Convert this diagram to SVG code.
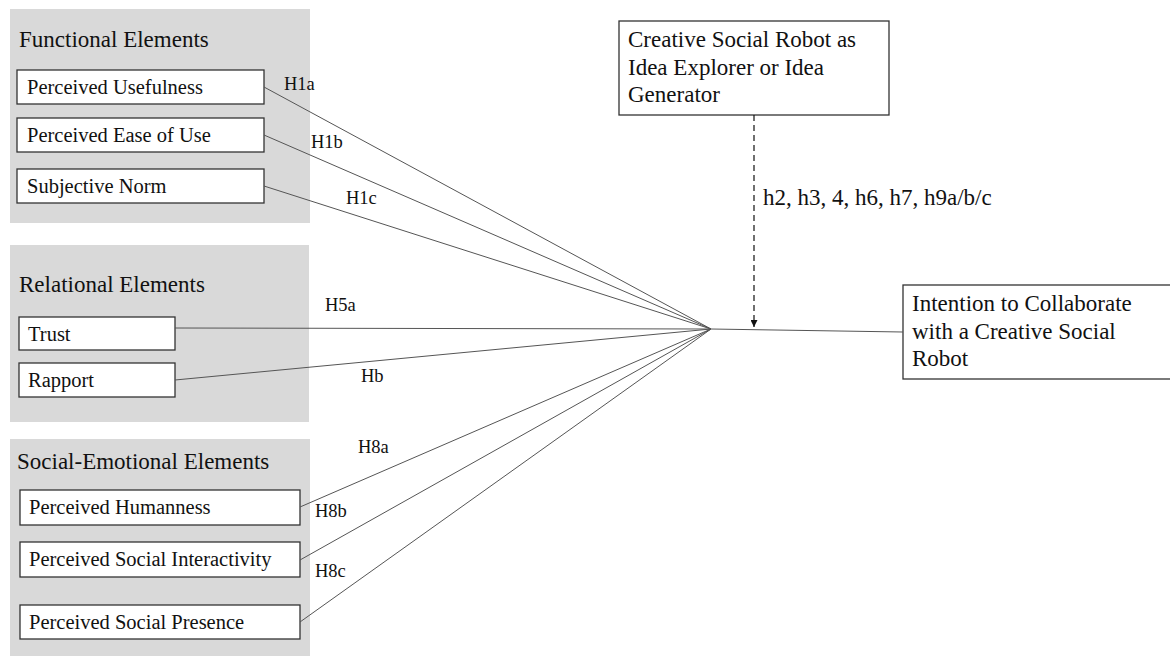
<svg xmlns="http://www.w3.org/2000/svg" width="1170" height="656" viewBox="0 0 1170 656">
<style>
.panel{fill:#d9d9d9;stroke:none}
.box{fill:#fff;stroke:#333;stroke-width:1.3}
.t{font-family:"Liberation Serif","Times New Roman",serif;fill:#111}
.title{font-size:23px}
.lbl{font-size:20.5px}
.h{font-size:18.5px}
.c{stroke:#555;stroke-width:1;fill:none}
</style>
<defs>
<marker id="arr" viewBox="0 0 10 10" refX="10" refY="5" markerWidth="7" markerHeight="7" orient="auto" markerUnits="userSpaceOnUse">
<path d="M0,0 L10,5 L0,10 z" fill="#111"/>
</marker>
</defs>
<rect width="1170" height="656" fill="#fff"/>
<g id="panel-functional">
<rect class="panel" x="10" y="9" width="300" height="214"/>
<text class="t title" x="19" y="47">Functional Elements</text>
</g>
<g id="panel-relational">
<rect class="panel" x="10" y="245" width="299" height="177"/>
<text class="t title" x="19" y="292">Relational Elements</text>
</g>
<g id="panel-social">
<rect class="panel" x="10" y="439" width="300" height="217"/>
<text class="t title" x="17" y="469">Social-Emotional Elements</text>
</g>
<g id="n-usefulness"><rect class="box" x="17" y="70" width="247" height="34"/><text class="t lbl" x="27" y="94">Perceived Usefulness</text></g>
<g id="n-ease"><rect class="box" x="17" y="118" width="247" height="34"/><text class="t lbl" x="27" y="142">Perceived Ease of Use</text></g>
<g id="n-norm"><rect class="box" x="17" y="169" width="247" height="34"/><text class="t lbl" x="27" y="193">Subjective Norm</text></g>
<g id="n-trust"><rect class="box" x="19" y="317" width="156" height="33"/><text class="t lbl" x="28" y="341">Trust</text></g>
<g id="n-rapport"><rect class="box" x="19" y="363" width="156" height="34"/><text class="t lbl" x="28" y="387">Rapport</text></g>
<g id="n-humanness"><rect class="box" x="20" y="490" width="280" height="35"/><text class="t lbl" x="29" y="514">Perceived Humanness</text></g>
<g id="n-interactivity"><rect class="box" x="20" y="542" width="280" height="35"/><text class="t lbl" x="29" y="566">Perceived Social Interactivity</text></g>
<g id="n-presence"><rect class="box" x="20" y="605" width="280" height="34"/><text class="t lbl" x="29" y="629">Perceived Social Presence</text></g>
<g id="n-robot"><rect class="box" x="619" y="21" width="270" height="94"/>
<text class="t title" x="628" y="47">Creative Social Robot as</text>
<text class="t title" x="628" y="75">Idea Explorer or Idea</text>
<text class="t title" x="628" y="102">Generator</text></g>
<g id="n-intention"><rect class="box" x="903" y="285" width="270" height="94"/>
<text class="t title" x="912" y="311">Intention to Collaborate</text>
<text class="t title" x="912" y="339">with a Creative Social</text>
<text class="t title" x="912" y="366">Robot</text></g>
<g id="connectors">
<line class="c" x1="264" y1="87" x2="711" y2="329"/>
<line class="c" x1="264" y1="135" x2="711" y2="329"/>
<line class="c" x1="264" y1="186" x2="711" y2="329"/>
<line class="c" x1="175" y1="328" x2="711" y2="329"/>
<line class="c" x1="175" y1="380" x2="711" y2="329"/>
<line class="c" x1="300" y1="507" x2="711" y2="329"/>
<line class="c" x1="300" y1="560" x2="711" y2="329"/>
<line class="c" x1="300" y1="622" x2="711" y2="329"/>
<line class="c" x1="711" y1="329" x2="903" y2="332"/>
<line x1="754" y1="115" x2="754" y2="327" stroke="#111" stroke-width="1.2" stroke-dasharray="6,4" marker-end="url(#arr)"/>
<text class="t h" x="284" y="90">H1a</text>
<text class="t h" x="311" y="148">H1b</text>
<text class="t h" x="346" y="204">H1c</text>
<text class="t h" x="325" y="311">H5a</text>
<text class="t h" x="361" y="382">Hb</text>
<text class="t h" x="358" y="453">H8a</text>
<text class="t h" x="315" y="517">H8b</text>
<text class="t h" x="315" y="577">H8c</text>
<text class="t title" x="763" y="205">h2, h3, 4, h6, h7, h9a/b/c</text>
</g>
</svg>
